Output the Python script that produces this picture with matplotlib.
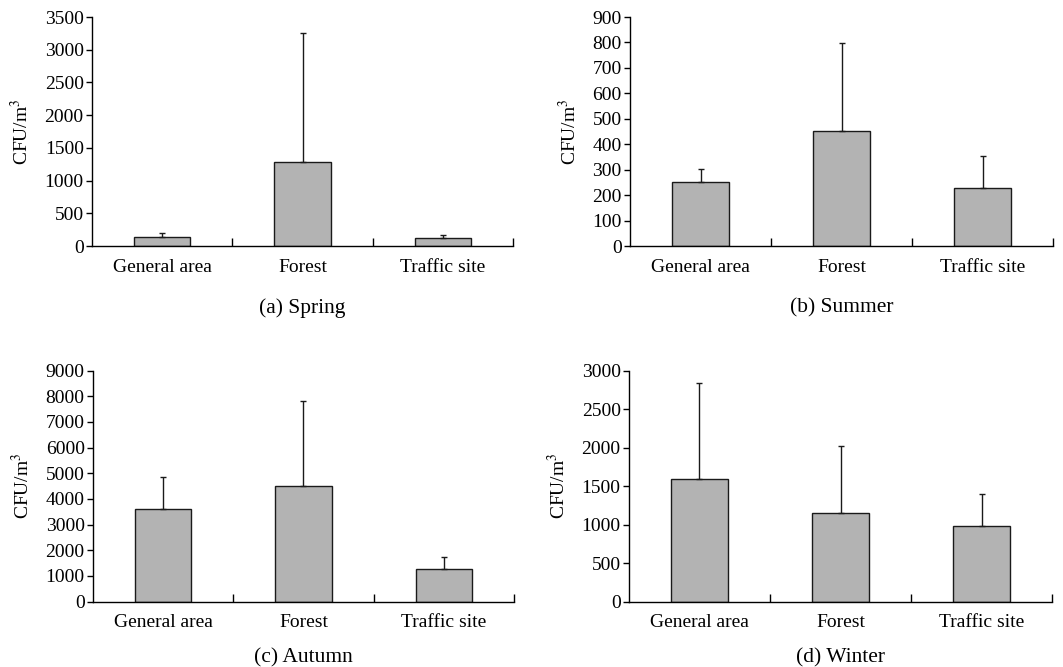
import numpy as np
import matplotlib
matplotlib.use("Agg")
import matplotlib.pyplot as plt

plt.rcParams['font.family'] = ['Liberation Serif', 'DejaVu Serif']
plt.rcParams['mathtext.fontset'] = 'stix'

# sites on the x axis
sites = ["General area", "Forest", "Traffic site"]

# mean concentration (CFU/m3) and upper error per season
spring_mean = [140, 1280, 120]
spring_err = [60, 1970, 50]
summer_mean = [252, 454, 227]
summer_err = [50, 345, 127]
autumn_mean = [3620, 4520, 1270]
autumn_err = [1250, 3310, 460]
winter_mean = [1590, 1150, 980]
winter_err = [1255, 875, 420]

captions = ["(a) Spring", "(b) Summer", "(c) Autumn", "(d) Winter"]
ymax = [3500, 900, 9000, 3000]
ystep = [500, 100, 1000, 500]
means = [spring_mean, summer_mean, autumn_mean, winter_mean]
errs = [spring_err, summer_err, autumn_err, winter_err]

fig = plt.figure(figsize=(10.63, 6.67), dpi=100)
positions = [
    [0.0866, 0.631, 0.396, 0.3435],
    [0.5927, 0.631, 0.398, 0.3435],
    [0.0875, 0.098, 0.396, 0.3463],
    [0.5917, 0.098, 0.398, 0.3463],
]
caption_y = [0.538, 0.538, 0.014, 0.014]

x = np.arange(len(sites))
for i in range(4):
    ax = fig.add_axes(positions[i])
    ax.bar(x, means[i], width=0.4, color='#b3b3b3', edgecolor='#1a1a1a', linewidth=1.0,
           yerr=[np.zeros(len(sites)), errs[i]], capsize=2.2,
           error_kw=dict(ecolor='#1a1a1a', elinewidth=1.0, capthick=1.0))
    ax.set_xlim(-0.5, 2.5)
    ax.set_ylim(0, ymax[i])
    ax.set_yticks(np.arange(0, ymax[i] + 1, ystep[i]))
    ax.set_xticks(x)
    ax.set_xticklabels(sites)
    ax.set_xticks([0.5, 1.5, 2.5], minor=True)
    ax.tick_params(axis='x', which='major', length=0, labelsize=14, pad=9)
    ax.tick_params(axis='x', which='minor', direction='in', length=6, width=1.0)
    ax.tick_params(axis='y', direction='out', length=4, width=1.0, labelsize=14, pad=2)
    ax.spines['top'].set_visible(False)
    ax.spines['right'].set_visible(False)
    ax.spines['left'].set_linewidth(1.0)
    ax.spines['bottom'].set_linewidth(1.0)
    ax.set_ylabel('CFU/m$^3$', fontsize=14, labelpad=9)
    cx = positions[i][0] + positions[i][2] / 2
    fig.text(cx, caption_y[i], captions[i], ha='center', va='center', fontsize=15.5)

fig.savefig('out.png', dpi=100)
